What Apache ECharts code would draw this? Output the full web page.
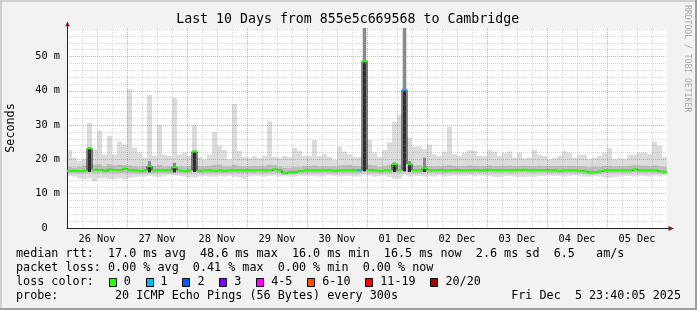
<!DOCTYPE html>
<html><head><meta charset="utf-8">
<script src="https://cdn.jsdelivr.net/npm/echarts@6.0.0/dist/echarts.min.js"></script>
<style>html,body{margin:0;padding:0;background:#f2f2f2}#c{width:697px;height:310px}</style>
</head><body><div id="c"></div><script>
// ---- data (2-hour buckets starting 26 Nov 00:00) ----
const BUCKET_HOURS = 2;
const dayLabels = ['26 Nov','27 Nov','28 Nov','29 Nov','30 Nov','01 Dec','02 Dec','03 Dec','04 Dec','05 Dec'];
const yTickLabels = ['0  ','10 m','20 m','30 m','40 m','50 m'];

const medianMs = [
 16.7,16.7,16.6,16.7,23.2,17.0,17.0,16.7,17.1,16.9,16.9,17.3,
 16.9,16.8,16.6,16.8,18.0,16.8,16.8,16.8,16.8,17.7,16.8,16.6,
 16.8,22.3,16.7,16.8,16.8,16.7,16.8,16.7,16.8,16.8,16.8,16.8,
 16.8,16.8,16.9,16.8,16.8,17.1,16.8,16.0,16.3,16.3,16.6,16.8,
 16.8,16.8,16.8,16.8,16.8,16.7,16.8,16.8,16.8,16.8,16.8,48.6,
 16.9,16.8,16.6,16.8,16.8,18.6,16.8,40.3,18.6,16.8,16.8,17.4,
 16.8,16.8,16.9,16.8,16.8,16.9,16.8,16.8,16.8,16.9,16.8,16.8,
 17.0,16.9,16.9,16.9,16.9,16.9,16.9,17.0,16.9,16.9,16.9,16.9,
 16.8,16.8,16.7,16.8,16.8,16.8,16.7,16.5,16.2,16.3,16.5,16.8,
 16.8,16.8,16.8,16.8,16.8,17.1,16.8,16.8,16.8,16.8,16.5,16.4
];
const lossIdx = [
 0,0,0,0,0,0,0,0,0,0,0,0,
 0,0,0,0,0,0,0,0,0,0,0,0,
 0,0,0,0,0,0,0,0,0,0,0,0,
 0,0,0,0,0,0,0,0,0,0,0,0,
 0,0,0,0,0,0,0,0,0,0,1,0,
 0,0,0,0,0,0,0,1,0,0,0,0,
 0,0,0,0,0,0,0,0,0,0,0,0,
 0,0,0,0,0,0,0,0,0,0,0,0,
 0,0,0,0,0,0,0,0,0,0,0,0,
 0,0,0,0,0,0,0,0,0,0,0,0
];
const hiMs = [
 22.8,20.5,19.5,20.0,30.7,22.8,28.4,21.4,26.9,21.4,25.2,24.3,
 40.4,23.4,22.0,20.5,38.8,21.0,30.1,21.4,21.0,37.9,21.4,22.0,
 21.0,30.1,20.7,19.9,21.4,28.0,24.0,22.8,20.0,36.2,22.5,20.7,
 20.5,21.0,20.3,21.0,31.1,20.7,20.5,21.0,20.7,23.4,22.5,21.0,
 21.0,25.7,21.0,21.5,20.7,19.8,23.8,22.3,21.5,20.7,20.7,58.3,
 25.7,22.0,20.7,22.7,25.0,31.0,33.0,58.3,26.3,23.7,23.8,23.0,
 24.3,21.5,21.0,22.3,29.6,21.5,21.0,22.0,22.7,22.5,21.0,21.0,
 22.8,22.3,21.0,21.9,22.3,20.5,22.0,20.3,20.5,22.8,21.4,21.0,
 20.0,20.5,21.0,22.4,22.0,20.5,21.4,21.4,20.0,20.5,21.0,22.0,
 23.3,20.0,20.3,20.0,21.4,21.4,22.0,22.0,21.5,25.2,23.9,20.7
];
const loMs = [
 15.2,15.0,14.5,14.3,14.5,13.6,14.5,14.6,14.3,14.2,14.5,14.3,
 14.6,14.8,15.0,15.0,15.2,15.0,14.8,15.2,15.5,15.3,15.2,15.0,
 14.7,14.7,15.0,15.2,15.0,15.0,15.2,15.0,15.2,15.0,14.8,14.4,
 15.0,15.2,15.2,15.0,15.2,15.3,15.0,15.2,15.0,15.0,15.2,15.2,
 15.2,15.2,15.0,15.2,15.3,15.2,15.0,15.2,15.2,15.0,15.0,15.5,
 15.3,15.0,15.2,15.2,14.8,14.4,14.4,15.5,15.0,15.2,15.2,15.0,
 15.2,15.0,15.3,15.0,15.2,15.3,15.2,15.2,15.3,15.2,15.3,15.2,
 15.2,14.9,14.9,15.2,15.2,15.0,14.9,14.9,15.0,14.9,15.2,15.2,
 15.3,15.2,15.2,15.0,15.2,15.3,15.2,15.0,15.0,15.2,15.0,14.7,
 14.6,14.8,15.0,15.2,15.2,15.0,15.2,15.2,15.0,15.2,15.0,15.3
];
const coreLoMs = [
 16.0,16.0,15.9,16.0,16.3,16.1,16.1,16.0,16.1,16.0,16.0,16.1,
 16.0,16.0,15.9,16.0,16.2,16.0,16.0,16.1,16.0,16.2,16.0,15.9,
 16.0,16.3,16.0,16.0,16.0,16.0,16.0,16.0,16.0,16.1,16.0,16.0,
 16.0,16.0,16.1,16.0,16.1,16.2,16.0,15.5,15.7,15.7,15.9,16.0,
 16.1,16.0,16.0,16.1,16.0,16.0,16.1,16.0,16.1,16.0,16.1,16.5,
 16.1,16.0,15.9,16.0,16.0,16.3,16.1,16.5,16.3,16.0,16.0,16.3,
 16.1,16.1,16.1,16.0,16.1,16.1,16.1,16.1,16.1,16.2,16.1,16.1,
 16.2,16.1,16.1,16.2,16.1,16.1,16.2,16.2,16.1,16.1,16.2,16.2,
 16.1,16.1,16.0,16.1,16.1,16.1,16.0,15.8,15.6,15.7,15.8,16.1,
 16.1,16.1,16.1,16.1,16.1,16.3,16.1,16.1,16.1,16.1,15.9,15.8
];
const coreHiMs = [
 17.8,17.6,17.8,18.2,23.5,18.4,18.6,18.0,18.6,18.2,18.4,18.4,
 18.2,18.0,17.8,18.0,19.5,18.0,18.4,17.9,18.0,19.0,17.9,17.9,
 18.0,22.6,18.0,17.9,18.1,18.4,18.5,18.0,17.9,18.4,18.0,17.9,
 17.9,18.0,18.0,18.1,18.4,18.3,17.9,17.6,17.6,17.8,17.8,18.0,
 18.0,18.2,17.9,18.0,17.9,17.9,18.2,18.3,18.4,18.0,18.0,58.3,
 18.4,18.2,17.8,18.0,18.4,19.1,18.5,58.3,19.5,18.2,18.3,20.5,
 18.0,17.9,18.0,18.1,18.3,18.1,18.0,18.0,18.2,18.0,18.0,18.0,
 18.2,18.0,18.0,18.1,18.2,18.0,18.0,18.1,18.0,17.9,18.1,18.0,
 18.0,18.0,18.1,18.0,18.1,18.0,18.0,17.9,17.7,17.8,17.8,18.1,
 18.1,17.9,18.0,18.0,18.1,18.3,18.2,18.2,18.1,18.2,17.9,17.8
];
const lossColors = ['#26ff00','#00b8ff','#0059ff','#7e00ff','#ff00ff','#ff5500','#ff0000','#a10000'];
const lossLabels = ['0','1','2','3','4-5','6-10','11-19','20/20'];

const titleText = 'Last 10 Days from 855e5c669568 to Cambridge';
const legendLine1 = 'median rtt:  17.0 ms avg  48.6 ms max  16.0 ms min  16.5 ms now  2.6 ms sd  6.5   am/s';
const legendLine2 = 'packet loss: 0.00 % avg  0.41 % max  0.00 % min  0.00 % now';
const legendLine3 = 'loss color:';
const legendLine4 = 'probe:        20 ICMP Echo Pings (56 Bytes) every 300s';
const dateText = 'Fri Dec  5 23:40:05 2025';
const watermark = 'RRDTOOL / TOBI OETIKER';

// ---- chart ----
const MONO = "'DejaVu Sans Mono', monospace";
const CHAR_W = 7.07;
const Y_MAX = 58.3, X_MAX = 240;
const RED = 'rgba(230,60,60,0.45)', GRAY = 'rgba(140,140,140,0.35)';
const chart = echarts.init(document.getElementById('c'), null, {renderer:'canvas', width:697, height:310});

const startH = medianMs.map((_, i) => i * BUCKET_HOURS);
const smokeData = medianMs.map((m, i) => [startH[i], loMs[i], coreLoMs[i], m, coreHiMs[i], hiMs[i]]);
const medData = medianMs.map((m, i) => [startH[i], m, lossIdx[i]]);
const connData = medianMs.map((m, i) => [startH[i] + BUCKET_HOURS / 2, m]);

function renderSmoke(params, api) {
  const x0 = api.value(0), x1 = x0 + BUCKET_HOURS;
  const lo = api.value(1), cLo = api.value(2), med = api.value(3), cHi = api.value(4), hi = api.value(5);
  const L = api.coord([x0, 0])[0], R = api.coord([x1, 0])[0], w = R - L;
  const Y = v => api.coord([x0, v])[1];
  const kids = [{type:'rect', shape:{x:L, y:Y(hi), width:w, height:Y(lo)-Y(hi)}, style:{fill:'#dcdcdc'}}];
  if (cHi - cLo > 2.6) {
    // elevated bucket: narrow dark column like the original smoke
    const cw = Math.min(3, w), cx = L + (w - cw) / 2;
    kids.push({type:'rect', shape:{x:L, y:Y(18.0), width:w, height:Y(cLo)-Y(18.0)}, style:{fill:'#bdbdbd'}});
    kids.push({type:'rect', shape:{x:cx, y:Y(cHi), width:cw, height:Y(med)-Y(cHi)}, style:{fill:'#8a8a8a'}});
    kids.push({type:'rect', shape:{x:cx, y:Y(med), width:cw, height:Y(cLo)-Y(med)}, style:{fill:'#2e2e2e'}});
  } else {
    kids.push({type:'rect', shape:{x:L, y:Y(cHi), width:w, height:Y(cLo)-Y(cHi)}, style:{fill:'#bdbdbd'}});
  }
  return {type:'group', children:kids};
}
function renderMedian(params, api) {
  const x0 = api.value(0), m = api.value(1), k = api.value(2);
  const p0 = api.coord([x0, m]), p1 = api.coord([x0 + BUCKET_HOURS, m]);
  return {type:'line', shape:{x1:p0[0], y1:p0[1], x2:p1[0], y2:p1[1]}, style:{stroke:lossColors[k], lineWidth:2}};
}

const axisFont = {fontFamily: MONO, fontSize: 10.28, color: '#000'};
chart.setOption({
  animation: false,
  backgroundColor: '#f2f2f2',
  grid: {left: 67, top: 28, width: 600, height: 200, show: true, backgroundColor: '#ffffff', borderWidth: 0, outerBoundsMode: 'none', containLabel: false},
  xAxis: {
    type: 'value', min: 0, max: X_MAX, interval: 6, z: 2,
    axisLine: {show: true, onZero: false, lineStyle: {color: '#222', width: 1}},
    axisTick: {show: false},
    axisLabel: Object.assign({margin: 6, showMinLabel: true, showMaxLabel: true,
      formatter: v => (Math.round(v) % 24 === 12 ? dayLabels[(Math.round(v) - 12) / 24] : '')}, axisFont),
    splitLine: {show: true, showMaxLine: false, lineStyle: {color: [RED, GRAY, GRAY, GRAY], type: [1, 1], width: 1}}
  },
  yAxis: {
    type: 'value', min: 0, max: Y_MAX, interval: 2, z: 2,
    axisLine: {show: true, lineStyle: {color: '#222', width: 1}},
    axisTick: {show: false},
    axisLabel: Object.assign({margin: 7, showMaxLabel: false,
      formatter: v => { const q = v / 10; return Math.abs(q - Math.round(q)) < 1e-6 ? (yTickLabels[Math.round(q)] || '') : ''; }}, axisFont),
    splitLine: {show: true, showMaxLine: false, lineStyle: {color: [RED, GRAY, GRAY, GRAY, GRAY], type: [1, 1], width: 1}}
  },
  series: [
    {type: 'custom', name: 'smoke', data: smokeData, renderItem: renderSmoke, z: 1, silent: true},
    {type: 'line', name: 'connector', data: connData, step: 'middle', symbol: 'none', z: 3, silent: true,
     lineStyle: {color: '#1a1a1a', width: 1}},
    {type: 'custom', name: 'median', data: medData, renderItem: renderMedian, z: 4, silent: true}
  ]
});

// ---- decorations: text, legend, arrows, frame ----
const g = [];
const txt = (x, y, text, font, opts) => Object.assign({type: 'text', x, y, z: 10,
  style: Object.assign({text, font, fill: '#000', textAlign: 'left', textVerticalAlign: 'middle'}, opts || {})});
g.push({type:'rect', shape:{x:0, y:0, width:697, height:2}, style:{fill:'#cfcfcf'}, z: 9});
g.push({type:'rect', shape:{x:0, y:0, width:2, height:310}, style:{fill:'#cfcfcf'}, z: 9});
g.push({type:'rect', shape:{x:0, y:308, width:697, height:2}, style:{fill:'#9e9e9e'}, z: 9});
g.push({type:'rect', shape:{x:695, y:0, width:2, height:310}, style:{fill:'#9e9e9e'}, z: 9});
g.push(txt(347.7, 19.3, titleText, "13.25px " + MONO, {textAlign: 'center'}));
g.push(Object.assign(txt(11, 128, 'Seconds', "11.75px " + MONO, {textAlign: 'center'}), {rotation: Math.PI / 2}));
g.push(Object.assign(txt(687.5, 5, watermark, "8.1px " + MONO, {fill: '#a8a8a8'}), {rotation: -Math.PI / 2}));
const LF = "11.75px " + MONO;
g.push(txt(16, 254.3, legendLine1, LF));
g.push(txt(16, 268.3, legendLine2, LF));
g.push(txt(16, 282.3, legendLine3, LF));
g.push(txt(16, 296.3, legendLine4, LF));
g.push(txt(681, 296.3, dateText, LF, {textAlign: 'right'}));
let bx = 108.7;
lossLabels.forEach((lab, i) => {
  g.push({type:'rect', z: 10, shape:{x: Math.round(bx) + 0.5, y: 278.5, width: 7, height: 8},
          style:{fill: lossColors[i], stroke: '#000', lineWidth: 1}});
  g.push(txt(bx + 15, 282.3, lab, LF));
  bx = bx + 15 + lab.length * CHAR_W + 14.8;
});
// axis arrows
const origin = chart.convertToPixel({xAxisIndex: 0, yAxisIndex: 0}, [0, 0]);
const yTop = chart.convertToPixel({xAxisIndex: 0, yAxisIndex: 0}, [0, Y_MAX]);
const xEnd = chart.convertToPixel({xAxisIndex: 0, yAxisIndex: 0}, [X_MAX, 0]);
const ax = Math.round(origin[0]) + 0.5, ay = Math.round(origin[1]) + 0.5;
g.push({type:'line', z: 10, shape:{x1: ax, y1: yTop[1], x2: ax, y2: yTop[1] - 2}, style:{stroke:'#222', lineWidth: 1}});
g.push({type:'polygon', z: 10, shape:{points: [[ax - 2.3, yTop[1] - 1.8], [ax + 2.3, yTop[1] - 1.8], [ax, yTop[1] - 6.5]]}, style:{fill: '#7f1f1f'}});
g.push({type:'line', z: 10, shape:{x1: xEnd[0], y1: ay, x2: xEnd[0] + 2, y2: ay}, style:{stroke:'#222', lineWidth: 1}});
g.push({type:'polygon', z: 10, shape:{points: [[xEnd[0] + 1.5, ay - 2.4], [xEnd[0] + 1.5, ay + 2.4], [xEnd[0] + 7, ay]]}, style:{fill: '#7f1f1f'}});
chart.setOption({graphic: g});
</script></body></html>
